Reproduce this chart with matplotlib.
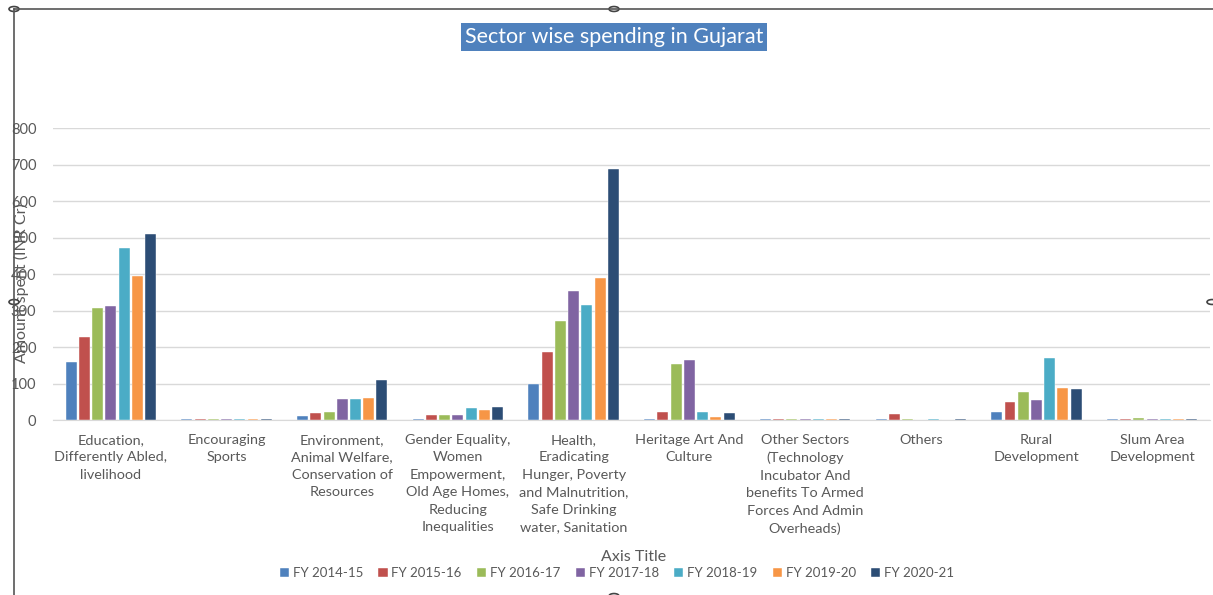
import numpy as np
import matplotlib.pyplot as plt
from matplotlib.patches import Circle
from matplotlib.lines import Line2D

plt.rcParams['font.family'] = ['Lato', 'DejaVu Sans']

categories = [
    "Education,\nDifferently Abled,\nlivelihood",
    "Encouraging\nSports",
    "Environment,\nAnimal Welfare,\nConservation of\nResources",
    "Gender Equality,\nWomen\nEmpowerment,\nOld Age Homes,\nReducing\nInequalities",
    "Health,\nEradicating\nHunger, Poverty\nand Malnutrition,\nSafe Drinking\nwater, Sanitation",
    "Heritage Art And\nCulture",
    "Other Sectors\n(Technology\nIncubator And\nbenefits To Armed\nForces And Admin\nOverheads)",
    "Others",
    "Rural\nDevelopment",
    "Slum Area\nDevelopment",
]

years = ["FY 2014-15", "FY 2015-16", "FY 2016-17", "FY 2017-18",
         "FY 2018-19", "FY 2019-20", "FY 2020-21"]

fy_2014_15 = [160, 3, 11, 3, 100, 3, 3, 3, 23, 3]
fy_2015_16 = [227, 3, 18, 14, 187, 22, 3, 16, 48, 3]
fy_2016_17 = [307, 3, 22, 14, 272, 153, 3, 2, 78, 5]
fy_2017_18 = [313, 3, 58, 14, 355, 164, 3, 0, 55, 3]
fy_2018_19 = [471, 3, 58, 34, 315, 22, 3, 2, 171, 3]
fy_2019_20 = [396, 3, 61, 28, 389, 8, 3, 0, 89, 3]
fy_2020_21 = [509, 3, 110, 36, 689, 19, 3, 3, 86, 3]

series = [fy_2014_15, fy_2015_16, fy_2016_17, fy_2017_18,
          fy_2018_19, fy_2019_20, fy_2020_21]
colors = ["#4F81BD", "#C0504D", "#9BBB59", "#8064A2",
          "#4BACC6", "#F79646", "#2C4D75"]

W, H = 1213, 595
fig = plt.figure(figsize=(W / 100, H / 100), dpi=100)
ax = fig.add_axes([53 / W, (H - 420) / H, (1210 - 53) / W, (420 - 128.3) / H])

x = np.arange(len(categories))
slot = 0.8 / len(series)
for i, (vals, c) in enumerate(zip(series, colors)):
    offs = (i - (len(series) - 1) / 2) * slot
    ax.bar(x + offs, vals, width=slot * 0.83, color=c, edgecolor='white',
           linewidth=0.3, label=years[i], zorder=3)

ax.set_xlim(-0.5, len(categories) - 0.5)
ax.set_ylim(0, 800)
ax.set_yticks(range(0, 801, 100))
ax.grid(axis='y', color='#D9D9D9', linewidth=1, zorder=0)
for s in ['top', 'right', 'left']:
    ax.spines[s].set_visible(False)
ax.spines['bottom'].set_color('#D9D9D9')
ax.tick_params(axis='both', length=0, colors='#595959', labelsize=10.5)
ax.tick_params(axis='y', pad=12)
ax.set_xticks(x)
ax.set_xticklabels(categories, linespacing=1.55, fontsize=10.4)
ax.tick_params(axis='x', pad=10)

ax.set_ylabel("Amount spent (INR Cr)", color='#595959', fontsize=11.5)
ax.yaxis.set_label_coords(-24 / (1210 - 53), 0.47)

fig.text(614 / W, 1 - 37 / H, "Sector wise spending in Gujarat", color='white',
         fontsize=15.5, ha='center', va='center',
         bbox=dict(boxstyle='square,pad=0.2', facecolor='#4F81BD', edgecolor='none'))

fig.text(634 / W, 1 - 557 / H, "Axis Title", color='#595959', fontsize=11.5,
         ha='center', va='center')
fig.legend(loc='center', bbox_to_anchor=(617 / W, 1 - 573 / H), ncol=7,
           frameon=False, fontsize=9.5, handlelength=0.7, handleheight=0.7,
           handletextpad=0.3, columnspacing=1.15, labelcolor='#595959')

# selection frame and handles from the screenshot
fig.add_artist(Line2D([14 / W, 1], [1 - 9 / H, 1 - 9 / H], color='#555555', lw=1.2))
fig.add_artist(Line2D([14 / W, 14 / W], [0, 1 - 9 / H], color='#555555', lw=1.2))
for px, py in [(14, 9), (614, 9), (14, 302), (1212, 302), (614, 596)]:
    fig.add_artist(Circle((px / W, 1 - py / H), 5 / W, transform=fig.transFigure,
                          facecolor='white', edgecolor='#444444', lw=1.2))

fig.savefig("out.png", dpi=100)
